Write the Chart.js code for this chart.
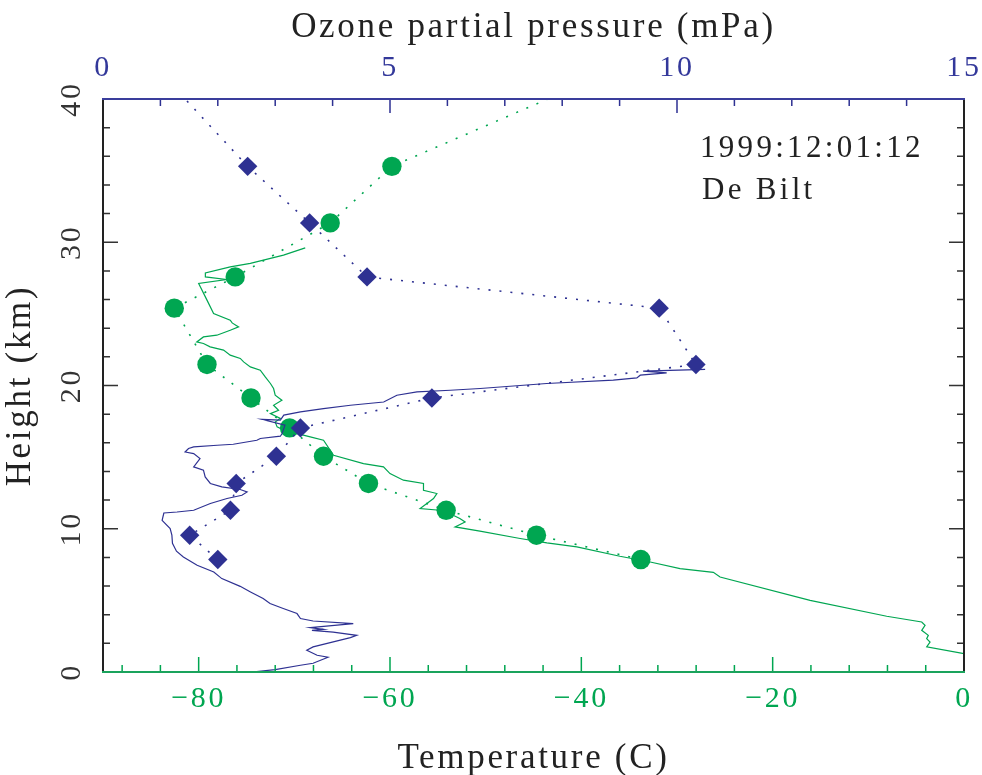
<!DOCTYPE html>
<html><head><meta charset="utf-8">
<script src="https://cdn.jsdelivr.net/npm/chart.js@4/dist/chart.umd.min.js"></script>
<style>html,body{margin:0;padding:0;background:#fff}canvas{display:block}</style>
</head><body>
<canvas id="c" width="982" height="775"></canvas>
<script>
// Sounding levels (km) with ozone (mPa) and temperature (C) markers; last entry continues the dotted line only
const levelHeights = [7.85, 9.55, 11.29, 13.16, 15.06, 17.04, 19.13, 21.47, 25.4, 27.58, 31.35, 35.3, 40];
const ozoneLevels  = [2.00, 1.51, 2.22, 2.32, 3.02, 3.44, 5.73, 10.33, 9.69, 4.60, 3.60, 2.52, 1.43];
const tempLevels   = [-33.78, -44.69, -54.13, -62.25, -66.95, -70.5, -74.53, -79.13, -82.55, -76.18, -66.25, -59.8, -43.5];

// High-resolution temperature profile [T (C), height (km)]
const tempProfile = [
 [0.0,1.28],[-3.9,1.75],[-3.55,2.09],[-3.9,2.33],[-3.73,2.56],[-4.42,2.91],[-4.07,3.26],[-4.42,3.49],
 [-8.08,3.89],[-16.09,5.0],[-25.5,6.63],[-26.2,6.96],[-29.68,7.22],[-32.8,7.68],[-35.97,8.08],[-40.47,8.73],
 [-43.6,9.01],[-46.4,9.32],[-50.6,9.83],[-53.2,10.13],[-52.15,10.47],[-52.7,10.71],[-53.4,10.94],[-54.8,11.29],
 [-56.85,11.41],[-55.45,12.11],[-55.1,12.46],[-56.5,12.69],[-56.5,13.16],[-58.6,13.39],[-60.0,13.85],[-60.68,14.32],
 [-62.77,14.55],[-65.9,15.13],[-66.95,16.18],[-68.34,16.41],[-71.1,16.88],[-71.8,17.11],[-72.0,17.46],[-71.47,17.7],
 [-72.5,18.04],[-71.65,18.27],[-72.17,18.62],[-71.3,18.97],[-72.0,19.32],[-72.17,19.79],[-72.5,20.14],[-73.04,20.6],
 [-73.56,21.07],[-74.6,21.3],[-75.3,21.65],[-75.65,21.89],[-76.7,22.12],[-77.4,22.47],[-78.8,22.7],[-79.5,22.93],
 [-80.2,23.04],[-79.5,23.39],[-78.1,23.51],[-76.7,23.86],[-75.83,24.09],[-76.5,24.37],[-76.7,24.56],[-78.44,25.03],
 [-79.13,25.96],[-80.0,27.12],[-77.1,27.4],[-79.3,27.58],[-79.3,27.86],[-76.7,28.28],[-74.6,28.52],[-72.5,28.87],
 [-71.13,29.1],[-68.86,29.61]
];

// High-resolution ozone profile [partial pressure (mPa), height (km)]
const ozoneProfile = [
 [2.595,0.0],[3.0,0.17],[3.44,0.47],[3.66,0.61],[3.92,1.03],[3.73,1.17],[3.55,1.52],[3.66,1.75],[4.31,2.40],
 [4.42,2.56],[4.01,2.79],[3.64,2.91],[3.84,2.98],[3.61,3.10],[4.36,3.38],[3.66,3.56],[3.44,3.73],[3.38,4.08],
 [3.14,4.43],[2.91,4.78],[2.79,5.13],[2.57,5.59],[2.39,5.98],[2.07,6.52],[1.93,6.98],[1.64,7.45],[1.40,8.03],
 [1.28,8.43],[1.21,8.99],[1.20,9.55],[1.17,10.01],[1.03,10.59],[1.06,11.1],[1.29,11.17],[1.58,11.29],[1.87,11.76],
 [2.16,12.11],[2.42,12.34],[2.51,12.57],[2.39,12.74],[2.07,12.92],[1.87,13.16],[1.78,13.62],[1.75,14.09],
 [1.58,14.32],[1.69,14.9],[1.58,15.25],[1.43,15.36],[1.49,15.6],[1.58,15.71],[1.99,15.83],[2.27,15.9],
 [2.68,16.18],[2.74,16.3],[3.09,16.46],[3.12,16.65],[3.17,17.23],[2.77,17.63],[3.09,17.58],[3.15,17.93],
 [3.44,18.16],[3.84,18.39],[4.31,18.62],[4.89,18.85],[5.12,19.32],[5.47,19.55],[6.05,19.67],[6.57,19.79],
 [7.73,20.14],[8.89,20.37],[9.30,20.53],[9.36,20.72],[9.82,20.88],[9.41,21.0],[10.49,21.12]
];

// Axis tick labels
const heightTicks = [0, 10, 20, 30, 40];
const ozoneTicks  = [0, 5, 10, 15];
const tempTicks   = [-80, -60, -40, -20, 0];
const heightMinorStep = 2, ozoneMinorStep = 1, tempMinorStep = 4;

const BLUE = '#2e3192', GREEN = '#00a651', INK = '#222';
const FONT = 'Liberation Serif, Times New Roman, serif';

const levelPts = (vals) => vals.map((v, i) => ({x: v, y: levelHeights[i]}));
const profPts = (arr) => arr.map(p => ({x: p[0], y: p[1]}));
const markerRadius = (ctx) => ctx.dataIndex === levelHeights.length - 1 ? 0 : 9.7;
const fmt = (v) => v < 0 ? '\u2212' + Math.abs(v) : String(v);
const noPad = (s) => { s.paddingLeft = 0; s.paddingRight = 0; s.paddingTop = 0; s.paddingBottom = 0; };

const framePlugin = {
  id: 'frameTicks',
  beforeDraw(chart) { chart.ctx.letterSpacing = '2.7px'; },
  afterDatasetsDraw(chart) {
    const {ctx, chartArea: a, scales} = chart;
    ctx.save();
    ctx.lineCap = 'butt';
    ctx.lineWidth = 1.5; ctx.strokeStyle = '#333';
    ctx.beginPath();
    for (let v = 0; v <= 40; v += heightMinorStep) {
      const p = scales.y.getPixelForValue(v);
      const len = v % 10 === 0 ? 15 : 7;
      ctx.moveTo(a.left, p); ctx.lineTo(a.left + len, p);
      ctx.moveTo(a.right, p); ctx.lineTo(a.right - len, p);
    }
    ctx.stroke();
    ctx.strokeStyle = BLUE;
    ctx.beginPath();
    for (let v = 0; v <= 15; v += ozoneMinorStep) {
      const p = scales.xO.getPixelForValue(v);
      const len = v % 5 === 0 ? 14 : 7;
      ctx.moveTo(p, a.top); ctx.lineTo(p, a.top + len);
    }
    ctx.stroke();
    ctx.strokeStyle = GREEN;
    ctx.beginPath();
    for (let v = -88; v <= 0; v += tempMinorStep) {
      const p = scales.xT.getPixelForValue(v);
      const len = v % 20 === 0 ? 15 : 7;
      ctx.moveTo(p, a.bottom); ctx.lineTo(p, a.bottom - len);
    }
    ctx.stroke();
    ctx.lineWidth = 2;
    ctx.strokeStyle = INK;
    ctx.beginPath(); ctx.moveTo(a.left, a.top); ctx.lineTo(a.left, a.bottom); ctx.stroke();
    ctx.beginPath(); ctx.moveTo(a.right, a.top); ctx.lineTo(a.right, a.bottom); ctx.stroke();
    ctx.strokeStyle = '#3a3e9c';
    ctx.beginPath(); ctx.moveTo(a.left - 1, a.top); ctx.lineTo(a.right + 1, a.top); ctx.stroke();
    ctx.strokeStyle = '#1aa35c';
    ctx.beginPath(); ctx.moveTo(a.left - 1, a.bottom); ctx.lineTo(a.right + 1, a.bottom); ctx.stroke();
    ctx.restore();
  },
  afterDraw(chart) {
    const ctx = chart.ctx;
    ctx.save();
    ctx.font = '31px ' + FONT;
    ctx.letterSpacing = '3.3px';
    ctx.fillStyle = INK;
    ctx.textAlign = 'left';
    ctx.textBaseline = 'alphabetic';
    ctx.fillText('1999:12:01:12', 700, 157);
    ctx.fillText('De Bilt', 702, 199);
    ctx.restore();
  }
};

const noGrid = {display: false, drawTicks: false};

new Chart(document.getElementById('c'), {
  type: 'scatter',
  data: {
    datasets: [
      {
        label: 'Ozone levels', data: levelPts(ozoneLevels), xAxisID: 'xO', yAxisID: 'y',
        showLine: true, borderColor: BLUE, borderWidth: 1.6, borderDash: [2, 9],
        pointStyle: 'rectRot', pointRadius: markerRadius, pointBackgroundColor: BLUE,
        pointBorderWidth: 0, order: 0
      },
      {
        label: 'Ozone profile', data: profPts(ozoneProfile), xAxisID: 'xO', yAxisID: 'y',
        showLine: true, borderColor: BLUE, borderWidth: 1.2, pointRadius: 0, order: 1
      },
      {
        label: 'Temperature levels', data: levelPts(tempLevels), xAxisID: 'xT', yAxisID: 'y',
        showLine: true, borderColor: GREEN, borderWidth: 1.6, borderDash: [2, 9],
        pointStyle: 'circle', pointRadius: markerRadius, pointBackgroundColor: GREEN,
        pointBorderWidth: 0, order: 2
      },
      {
        label: 'Temperature profile', data: profPts(tempProfile), xAxisID: 'xT', yAxisID: 'y',
        showLine: true, borderColor: GREEN, borderWidth: 1.2, pointRadius: 0, order: 3
      }
    ]
  },
  options: {
    responsive: false,
    animation: false,
    devicePixelRatio: 1,
    layout: {padding: {left: 0, right: 18, top: 0, bottom: 0}},
    plugins: {legend: {display: false}, tooltip: {enabled: false}},
    scales: {
      y: {
        type: 'linear', position: 'left', min: 0, max: 40,
        afterFit: s => { s.width = 103; noPad(s); },
        afterBuildTicks: s => { s.ticks = heightTicks.map(v => ({value: v})); },
        grid: noGrid, border: {display: false},
        ticks: {minRotation: 90, maxRotation: 90, crossAlign: 'center', padding: 16,
                color: '#333', font: {family: FONT, size: 30, lineHeight: 1}, callback: fmt},
        title: {display: true, text: 'Height (km)', color: INK,
                font: {family: FONT, size: 35, lineHeight: 1}, padding: {top: 3.5, bottom: 0}}
      },
      xT: {
        type: 'linear', position: 'bottom', min: -90, max: 0,
        afterFit: s => { s.height = 103; noPad(s); },
        afterBuildTicks: s => { s.ticks = tempTicks.map(v => ({value: v})); },
        grid: noGrid, border: {display: false},
        ticks: {maxRotation: 0, padding: 12.6, color: GREEN,
                font: {family: FONT, size: 30, lineHeight: 1}, callback: fmt},
        title: {display: true, text: 'Temperature (C)', color: INK,
                font: {family: FONT, size: 35, lineHeight: 1}, padding: {top: 0, bottom: -1.4}}
      },
      xO: {
        type: 'linear', position: 'top', min: 0, max: 15,
        afterFit: s => { s.height = 99; noPad(s); },
        afterBuildTicks: s => { s.ticks = ozoneTicks.map(v => ({value: v})); },
        grid: noGrid, border: {display: false},
        ticks: {maxRotation: 0, padding: 15.8, color: '#33389a',
                font: {family: FONT, size: 30, lineHeight: 1}, callback: fmt},
        title: {display: true, text: 'Ozone partial pressure (mPa)', color: INK,
                font: {family: FONT, size: 35, lineHeight: 1}, padding: {top: 10.7, bottom: 0}}
      }
    }
  },
  plugins: [framePlugin]
});
</script>
</body></html>
